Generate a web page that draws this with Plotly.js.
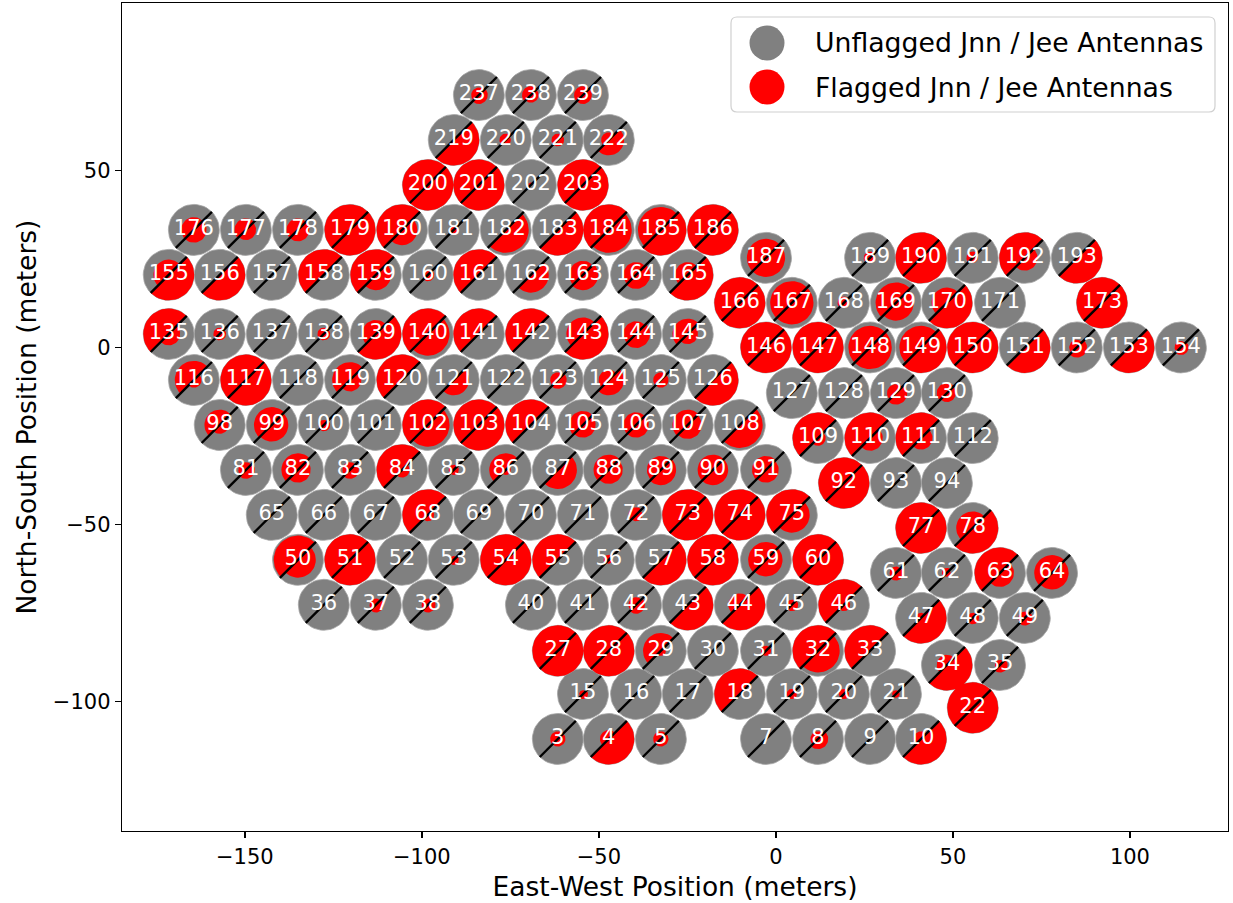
<!DOCTYPE html>
<html><head><meta charset="utf-8">
<script src="https://cdn.plot.ly/plotly-3.0.1.min.js"></script>
<style>html,body{margin:0;padding:0;background:#fff}</style>
</head><body><div id="chart" style="width:1233px;height:903px"></div>
<script>
// Antenna numbers
const antennas = [
  3,4,5,7,8,9,10,
  15,16,17,18,19,20,21,22,
  27,28,29,30,31,32,33,34,35,
  36,37,38,40,41,42,43,44,45,46,47,48,49,
  50,51,52,53,54,55,56,57,58,59,60,61,62,63,64,
  65,66,67,68,69,70,71,72,73,74,75,77,78,
  81,82,83,84,85,86,87,88,89,90,91,92,93,94,
  98,99,100,101,102,103,104,105,106,107,108,109,110,111,112,
  116,117,118,119,120,121,122,123,124,125,126,127,128,129,130,
  135,136,137,138,139,140,141,142,143,144,145,146,147,148,149,150,151,152,153,154,
  155,156,157,158,159,160,161,162,163,164,165,166,167,168,169,170,171,173,
  176,177,178,179,180,181,182,183,184,185,186,187,189,190,191,192,193,
  200,201,202,203,
  219,220,221,222,
  237,238,239
];
// East-West position (m)
const eastWest = [
  -61.6,-47.2,-32.5,-2.8,11.9,26.6,41.0,
  -54.5,-39.5,-24.9,-10.2,4.5,19.2,33.9,55.6,
  -61.6,-47.2,-32.5,-17.8,-2.8,11.9,26.6,48.3,63.3,
  -127.7,-113.0,-98.3,-69.2,-54.5,-39.5,-24.9,-10.2,4.5,19.2,41.0,55.6,70.3,
  -135.0,-120.3,-105.6,-91.0,-76.3,-61.6,-47.2,-32.5,-17.8,-2.8,11.9,33.9,48.3,63.3,78.0,
  -142.4,-127.7,-113.0,-98.3,-83.9,-69.2,-54.5,-39.5,-24.9,-10.2,4.5,41.0,55.6,
  -149.7,-135.0,-120.3,-105.6,-91.0,-76.3,-61.6,-47.2,-32.5,-17.8,-2.8,19.2,33.9,48.3,
  -157.1,-142.4,-127.7,-113.0,-98.3,-83.9,-69.2,-54.5,-39.5,-24.9,-10.2,11.9,26.6,41.0,55.6,
  -164.4,-149.7,-135.0,-120.3,-105.6,-91.0,-76.3,-61.6,-47.2,-32.5,-17.8,4.5,19.2,33.9,48.3,
  -171.5,-157.1,-142.4,-127.7,-113.0,-98.3,-83.9,-69.2,-54.5,-39.5,-24.9,-2.8,11.9,26.6,41.0,55.6,70.3,85.0,99.7,114.4,
  -171.5,-157.1,-142.4,-127.7,-113.0,-98.3,-83.9,-69.2,-54.5,-39.5,-24.9,-10.2,4.5,19.2,33.9,48.3,63.3,92.1,
  -164.4,-149.7,-135.0,-120.3,-105.6,-91.0,-76.3,-61.6,-47.2,-32.5,-17.8,-2.8,26.6,41.0,55.6,70.3,85.0,
  -98.3,-83.9,-69.2,-54.5,
  -91.0,-76.3,-61.6,-47.2,
  -83.9,-69.2,-54.5
];
// North-South position (m)
const northSouth = [
  -110.6,-110.6,-110.6,-110.6,-110.6,-110.6,-110.6,
  -97.9,-97.9,-97.9,-97.9,-97.9,-97.9,-97.9,-101.8,
  -85.7,-85.7,-85.7,-85.7,-85.7,-85.7,-85.7,-89.7,-89.7,
  -72.7,-72.7,-72.7,-72.7,-72.7,-72.7,-72.7,-72.7,-72.7,-72.7,-76.4,-76.4,-76.4,
  -60.0,-60.0,-60.0,-60.0,-60.0,-60.0,-60.0,-60.0,-60.0,-60.0,-60.0,-63.7,-63.7,-63.7,-63.7,
  -47.3,-47.3,-47.3,-47.3,-47.3,-47.3,-47.3,-47.3,-47.3,-47.3,-47.3,-51.0,-51.0,
  -34.6,-34.6,-34.6,-34.6,-34.6,-34.6,-34.6,-34.6,-34.6,-34.6,-34.6,-38.3,-38.3,-38.3,
  -21.9,-21.9,-21.9,-21.9,-21.9,-21.9,-21.9,-21.9,-21.9,-21.9,-21.9,-25.6,-25.6,-25.6,-25.6,
  -9.2,-9.2,-9.2,-9.2,-9.2,-9.2,-9.2,-9.2,-9.2,-9.2,-9.2,-12.9,-12.9,-12.9,-12.9,
  3.8,3.8,3.8,3.8,3.8,3.8,3.8,3.8,3.8,3.8,3.8,0,0,0,0,0,0,0,0,0,
  20.5,20.5,20.5,20.5,20.5,20.5,20.5,20.5,20.5,20.5,20.5,12.6,12.6,12.6,12.6,12.6,12.6,12.6,
  33.2,33.2,33.2,33.2,33.2,33.2,33.2,33.2,33.2,33.2,33.2,25.3,25.3,25.3,25.3,25.3,25.3,
  45.9,45.9,45.9,45.9,
  58.6,58.6,58.6,58.6,
  71.3,71.3,71.3
];
// Flagged extent (as fraction of marker radius) for Jnn (upper-left half)
const flagFracJnn = [
  0.3,0.35,0.3,0,0.3,0,0.3,
  0.15,0,0,1,0.2,0.2,0.15,1,
  1,1,0.7,0,0.2,1,1,0.4,0.2,
  0,0.25,0.25,0,0,0.3,0,0.45,0.2,1,0.2,0.2,0.25,
  0.95,1,0,0.15,1,1,0.2,0,1,0.7,1,0.25,0.2,1,0.7,
  0,0,0,1,0,0,0,0.3,1,1,1,1,0.65,
  0.3,0.65,0.3,1,0.2,0.65,0,0.6,0.55,0.6,0.55,1,0,0,
  0.6,0.7,0.2,0,1,1,1,0.55,0.5,0.6,0,1,1,1,0,
  0.75,1,0,0.7,1,0,0,0.3,0.4,0.3,0,0,0,0.35,0.4,
  1,0.25,0,0.25,0.55,1,1,1,0.65,0.5,0.6,1,1,0.85,0.85,1,0,0.3,0,0.25,
  0.6,0,0,1,1,0.2,1,0,0.55,0.5,0.5,1,0.85,0.25,0.8,0.6,0,1,
  0.5,0.45,0.45,1,1,0.15,0,0,1,0.9,1,0.75,0.25,1,0.25,1,0,
  1,1,0.1,1,
  0,0.25,0.25,0.3,
  0.3,0.35,0.35
];
// Flagged extent (as fraction of marker radius) for Jee (lower-right half)
const flagFracJee = [
  0.3,1,0.3,0,0.4,0,1,
  0.2,0,0,0,0.2,0.2,0.15,1,
  1,1,0.2,0,0.2,0.85,0,1,0.3,
  0,0.3,0.3,0,0,0.35,1,1,0.25,0.25,1,0.25,0.3,
  0.7,1,0,0.2,1,0,0.15,1,1,0.65,1,0.3,0.15,0.55,0.65,
  0,0,0,0.25,0,0,0,0.25,1,1,0.7,1,1,
  0.35,0.5,0.35,0.3,0.2,0.2,0.75,0.55,0.6,0.6,0.5,1,0,0,
  0.35,0.65,0.25,0,0.85,1,0,0.5,0.5,0.55,0.9,0.3,0.5,0.45,0,
  0.3,1,0,0.45,0,0.6,0,0.35,0.6,0.3,1,0,0,0.45,0.35,
  0.45,0.25,0,0.25,1,0.85,0,0,1,0.55,0.4,1,1,0.85,1,1,1,0.4,1,0.3,
  1,1,0,0,0.6,0.25,0,0.7,0.6,0.55,1,1,0.85,0.2,0.7,1,0,1,
  0.5,0.4,0.45,1,0.6,0.15,0.9,1,0.9,1,1,0.75,0.2,1,0.2,0.5,1,
  1,1,0,1,
  1,0.2,0.25,0.6,
  0.35,0.3,0.35
];
const legendLabels = ["Unflagged Jnn / Jee Antennas", "Flagged Jnn / Jee Antennas"];

// ---- geometry helpers (marker shapes built around each antenna position) ----
const R = 7.2, NSEG = 48;
const GRAY = "#808080", RED = "#ff0000";
function arcPts(cx, cy, r, a0, a1, n, xs, ys) {
  for (let i = 0; i <= n; i++) {
    const a = (a0 + (a1 - a0) * i / n) * Math.PI / 180;
    xs.push(cx + r * Math.cos(a)); ys.push(cy + r * Math.sin(a));
  }
}
const gx = [], gy = [], rx = [], ry = [], lx = [], ly = [];
for (let i = 0; i < antennas.length; i++) {
  const cx = eastWest[i], cy = northSouth[i];
  arcPts(cx, cy, R, 0, 360, NSEG, gx, gy); gx.push(null); gy.push(null);
  if (flagFracJnn[i] > 0) { arcPts(cx, cy, R * flagFracJnn[i], 45, 225, NSEG/2, rx, ry); rx.push(null); ry.push(null); }
  if (flagFracJee[i] > 0) { arcPts(cx, cy, R * flagFracJee[i], 225, 405, NSEG/2, rx, ry); rx.push(null); ry.push(null); }
  const c = Math.cos(Math.PI/4) * R;
  lx.push(cx - c, cx + c, null); ly.push(cy - c, cy + c, null);
}
const FONT = "DejaVu Sans, sans-serif";
const traces = [
  {type:"scatter", mode:"lines", x:gx, y:gy, fill:"toself", fillcolor:GRAY,
   line:{color:"#a6a6a6", width:0.8}, hoverinfo:"skip", showlegend:false},
  {type:"scatter", mode:"lines", x:rx, y:ry, fill:"toself", fillcolor:RED,
   line:{color:RED, width:0}, hoverinfo:"skip", showlegend:false},
  {type:"scatter", mode:"lines", x:lx, y:ly, line:{color:"#000", width:2.4},
   hoverinfo:"skip", showlegend:false},
  {type:"scatter", mode:"text", x:eastWest, y:northSouth, text:antennas.map(String),
   textposition:"middle center", textfont:{color:"#fff", size:21, family:FONT},
   hoverinfo:"skip", showlegend:false}
];

// custom legend (matches matplotlib-style large markers)
const L = 122, T = 3, W = 1106, H = 828;
const fx = p => (p - L) / W, fy = p => (T + H - p) / H;
function roundRect(x0, y0, x1, y1, r) {
  const X = fx, Y = fy;
  return `M ${X(x0+r)} ${Y(y0)} L ${X(x1-r)} ${Y(y0)} Q ${X(x1)} ${Y(y0)} ${X(x1)} ${Y(y0+r)} ` +
    `L ${X(x1)} ${Y(y1-r)} Q ${X(x1)} ${Y(y1)} ${X(x1-r)} ${Y(y1)} L ${X(x0+r)} ${Y(y1)} ` +
    `Q ${X(x0)} ${Y(y1)} ${X(x0)} ${Y(y1-r)} L ${X(x0)} ${Y(y0+r)} Q ${X(x0)} ${Y(y0)} ${X(x0+r)} ${Y(y0)} Z`;
}
const shapes = [
  {type:"path", xref:"paper", yref:"paper", path:roundRect(731, 17, 1215, 112, 6),
   fillcolor:"rgba(255,255,255,0.8)", line:{color:"#d0d0d0", width:1.2}, layer:"above"},
  {type:"circle", xref:"paper", yref:"paper", xsizemode:"pixel", ysizemode:"pixel",
   xanchor:fx(767), yanchor:fy(43), x0:-17.5, x1:17.5, y0:-17.5, y1:17.5,
   fillcolor:GRAY, line:{width:0}, layer:"above"},
  {type:"circle", xref:"paper", yref:"paper", xsizemode:"pixel", ysizemode:"pixel",
   xanchor:fx(767), yanchor:fy(87), x0:-17.5, x1:17.5, y0:-17.5, y1:17.5,
   fillcolor:RED, line:{width:0}, layer:"above"}
];
const annotations = [
  {xref:"paper", yref:"paper", x:fx(813), y:fy(43), xanchor:"left", yanchor:"middle",
   text:legendLabels[0], showarrow:false, font:{size:26.7, family:FONT, color:"#000"}},
  {xref:"paper", yref:"paper", x:fx(813), y:fy(87), xanchor:"left", yanchor:"middle",
   text:legendLabels[1], showarrow:false, font:{size:26.7, family:FONT, color:"#000"}}
];

const axisCommon = {
  showline:true, linecolor:"#000", linewidth:1.3, mirror:true,
  ticks:"outside", ticklen:6, tickwidth:1.3, tickcolor:"#000",
  showgrid:false, zeroline:false, automargin:false,
  tickfont:{size:21, family:FONT, color:"#000"}
};
const layout = {
  width:1233, height:903,
  margin:{l:L, r:1233 - L - W, t:T, b:903 - T - H},
  paper_bgcolor:"#fff", plot_bgcolor:"#fff",
  font:{family:FONT, color:"#000"},
  showlegend:false,
  xaxis:Object.assign({}, axisCommon, {
    range:[-184.7, 127.7], tickvals:[-150,-100,-50,0,50,100],
    title:{text:"East-West Position (meters)", font:{size:26.5, family:FONT, color:"#000"}, standoff:10}
  }),
  yaxis:Object.assign({}, axisCommon, {
    range:[-136.6, 97.3], tickvals:[-100,-50,0,50],
    title:{text:"North-South Position (meters)", font:{size:26.5, family:FONT, color:"#000"}, standoff:8}
  }),
  shapes:shapes, annotations:annotations
};
Plotly.newPlot("chart", traces, layout, {staticPlot:true, displayModeBar:false});
</script>
</body></html>
